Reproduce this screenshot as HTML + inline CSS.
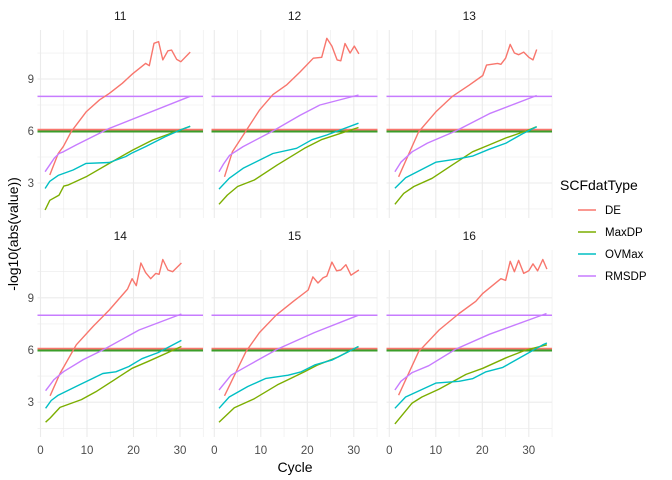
<!DOCTYPE html>
<html><head><meta charset="utf-8"><style>
html,body{margin:0;padding:0;background:#fff;}
svg{display:block;font-family:"Liberation Sans",sans-serif;}
</style></head><body>
<svg id="s" width="672" height="480" xmlns="http://www.w3.org/2000/svg"></svg>
<script>
const s=document.getElementById('s');
let h='';
const cols=[{l:37.5,r:203,x0:40.5},{l:211.5,r:377.5,x0:214.3},{l:386.5,r:552,x0:389.3}];
const rows=[{t:30,b:218,y6:131,k:17.33},{t:250,b:437,y6:350,k:17.4}];
const kx=4.65;
const C={DE:'#F8766D',MaxDP:'#7CAE00',OVMax:'#00BFC4',RMSDP:'#C77CFF'};
const D={
11:{DE:[[2,3.46],[3.8,4.7],[4.9,5.1],[6.6,5.96],[9.8,7.1],[12.7,7.8],[14.8,8.17],[17.6,8.75],[19.8,9.3],[22.6,9.9],[23.4,9.77],[24.4,11.06],[25.4,11.16],[26.3,10.1],[27.4,10.63],[28.2,10.67],[29.3,10.13],[30.2,10.0],[32.2,10.55]],
RMSDP:[[1,3.65],[2,4.05],[3,4.45],[4,4.7],[4.9,4.8],[7.7,5.2],[14.8,6.15],[32.2,8.0]],
OVMax:[[1,2.68],[2,3.1],[3.8,3.44],[7,3.75],[9.8,4.13],[14.8,4.18],[18.3,4.52],[19.8,4.75],[22.6,5.1],[26.8,5.67],[30,6.05],[32.2,6.27]],
MaxDP:[[1,1.44],[2,2.0],[4,2.3],[5,2.82],[5.9,2.88],[9.8,3.36],[14.8,4.13],[19.8,4.9],[24.1,5.48],[32.2,6.27]]},
12:{DE:[[2.2,3.36],[3.9,4.8],[6.8,6.0],[9.7,7.2],[12.6,8.1],[15.5,8.65],[18.4,9.4],[21.3,10.2],[23.1,10.25],[24.2,11.35],[25.3,10.9],[26.4,10.1],[27.2,10.05],[28.1,11.05],[29.2,10.5],[30.1,10.9],[31.1,10.45]],
RMSDP:[[1,3.65],[2,4.1],[3.3,4.6],[6.2,5.1],[12.6,6.0],[18.4,6.9],[22.7,7.5],[31,8.08]],
OVMax:[[1,2.65],[3.2,3.27],[6.2,3.85],[12.6,4.7],[17.7,5.0],[21,5.5],[24.2,5.77],[31,6.45]],
MaxDP:[[1,1.77],[2.8,2.3],[5,2.8],[8.6,3.17],[13.6,4.05],[19.4,5.0],[23,5.5],[31,6.2]]},
13:{DE:[[2,3.36],[6.3,5.95],[10,7.1],[13.6,8.0],[17.2,8.65],[20.1,9.2],[20.9,9.8],[23.3,9.9],[24,9.85],[25,10.2],[26,11.0],[26.9,10.5],[27.8,10.4],[28.9,10.55],[30,10.25],[30.9,10.1],[31.7,10.7]],
RMSDP:[[1.2,3.65],[2.5,4.2],[4.9,4.8],[8.2,5.3],[14.3,6.0],[21.5,7.0],[31.7,8.05]],
OVMax:[[1.2,2.7],[3.5,3.3],[10,4.2],[15,4.4],[17.9,4.55],[21.5,4.95],[25.1,5.3],[28.7,5.85],[31.7,6.25]],
MaxDP:[[1.2,1.77],[3.1,2.4],[5.3,2.8],[9.2,3.27],[13.6,4.05],[17.9,4.8],[21.5,5.2],[25.1,5.6],[29.4,6.0],[31.7,6.25]]},
14:{DE:[[2.06,3.37],[4.2,4.65],[7.7,6.3],[11.3,7.35],[14.8,8.3],[18.7,9.5],[19.7,10.1],[20.6,9.7],[21.6,11.0],[22.6,10.45],[23.7,10.1],[24.8,10.4],[25.5,10.35],[26.3,11.2],[27.4,10.6],[28.4,10.5],[30.3,11.0]],
RMSDP:[[1.1,3.66],[2.9,4.3],[4.9,4.75],[9.2,5.45],[13.4,6.0],[21.2,7.15],[30.3,8.07]],
OVMax:[[1.1,2.65],[2.3,3.1],[3.8,3.4],[8.4,4.0],[13.4,4.65],[16.2,4.75],[19,5.05],[21.8,5.5],[25.3,5.85],[30.3,6.55]],
MaxDP:[[1.1,1.85],[2.1,2.1],[4.2,2.7],[8.8,3.15],[11.9,3.6],[15.4,4.2],[19.7,4.95],[23.2,5.35],[30.3,6.2]]},
15:{DE:[[2.2,3.37],[6.8,5.9],[9.7,7.0],[13.3,8.0],[17,8.8],[20.2,9.45],[21.2,10.2],[22.3,9.85],[23.4,10.15],[24.2,10.25],[25.3,11.05],[26.3,10.55],[27.2,10.6],[28.3,10.9],[29.4,10.3],[31.1,10.6]],
RMSDP:[[1,3.7],[3.6,4.55],[7.2,5.1],[13.6,6.05],[21.5,7.0],[31,8.0]],
OVMax:[[1,2.65],[3.2,3.3],[7.2,3.9],[11.1,4.37],[15.9,4.55],[18.7,4.75],[21.7,5.15],[25.3,5.42],[31,6.2]],
MaxDP:[[1,1.85],[2,2.1],[4.3,2.68],[8.6,3.2],[13.6,4.0],[19.4,4.75],[22.3,5.15],[26.6,5.6],[31,6.2]]},
16:{DE:[[2,3.4],[6.3,5.9],[10.7,7.15],[15,8.1],[18.6,8.8],[20.1,9.25],[24,10.1],[25,10.0],[26,11.1],[26.9,10.5],[27.8,11.15],[28.9,10.4],[30,10.55],[30.9,10.95],[31.9,10.55],[33,11.2],[33.9,10.65]],
RMSDP:[[1.2,3.7],[2.5,4.2],[4.9,4.7],[8.5,5.1],[14.3,6.05],[21.5,6.9],[33.8,8.1]],
OVMax:[[1.2,2.65],[3.5,3.3],[10,4.1],[15,4.2],[17.9,4.35],[20.8,4.75],[24.4,5.0],[28.7,5.65],[33,6.3],[33.9,6.4]],
MaxDP:[[1.2,1.75],[4.9,2.95],[7,3.3],[10.7,3.75],[16.5,4.6],[20.1,4.95],[25.1,5.55],[29.4,6.0],[33.9,6.3]]}
};
const ids=[11,12,13,14,15,16];
ids.forEach((id,i)=>{
 const c=cols[i%3], r=rows[Math.floor(i/3)];
 const X=v=>c.x0+v*kx, Y=v=>r.y6-(v-6)*r.k;
 // minor grid
 [1.5,4.5,7.5,10.5].forEach(v=>{const y=Y(v);if(y>r.t&&y<r.b)h+=`<line x1="${c.l}" x2="${c.r}" y1="${y}" y2="${y}" stroke="#ebebeb" stroke-width="0.6"/>`;});
 [5,15,25,35].forEach(v=>{const x=X(v);if(x<=c.r+1)h+=`<line x1="${x}" x2="${x}" y1="${r.t}" y2="${r.b}" stroke="#ebebeb" stroke-width="0.6"/>`;});
 [3,6,9].forEach(v=>{const y=Y(v);h+=`<line x1="${c.l}" x2="${c.r}" y1="${y}" y2="${y}" stroke="#ebebeb" stroke-width="1.1"/>`;});
 [0,10,20,30].forEach(v=>{const x=X(v);h+=`<line x1="${x}" x2="${x}" y1="${r.t}" y2="${r.b}" stroke="#ebebeb" stroke-width="1.1"/>`;});
 // hlines
 h+=`<line x1="${c.l}" x2="${c.r}" y1="${Y(8)}" y2="${Y(8)}" stroke="${C.RMSDP}" stroke-width="1.5"/>`;
 h+=`<line x1="${c.l}" x2="${c.r}" y1="${Y(6.07)}" y2="${Y(6.07)}" stroke="${C.DE}" stroke-width="2"/>`;
 h+=`<line x1="${c.l}" x2="${c.r}" y1="${Y(5.97)}" y2="${Y(5.97)}" stroke="#3a9e2a" stroke-width="2"/>`;
 ['DE','MaxDP','OVMax','RMSDP'].forEach(k=>{
  h+=`<polyline fill="none" stroke="${C[k]}" stroke-width="1.4" stroke-linejoin="round" points="${D[id][k].map(p=>X(p[0]).toFixed(1)+','+Y(p[1]).toFixed(1)).join(' ')}"/>`;
 });
 h+=`<text x="${(c.l+c.r)/2}" y="${r.t-10}" font-size="12" fill="#1a1a1a" text-anchor="middle">${id}</text>`;
 if(i%3==0)[3,6,9].forEach(v=>{h+=`<text x="34" y="${Y(v)+4}" font-size="11.5" fill="#4d4d4d" text-anchor="end">${v}</text>`;});
 if(i>=3)[0,10,20,30].forEach(v=>{h+=`<text x="${X(v)}" y="454" font-size="11.5" fill="#4d4d4d" text-anchor="middle">${v}</text>`;});
});
h+=`<text x="295" y="472" font-size="14" fill="#000" text-anchor="middle">Cycle</text>`;
h+=`<text transform="translate(18,234) rotate(-90)" font-size="14" fill="#000" text-anchor="middle">-log10(abs(value))</text>`;
h+=`<text x="560" y="190" font-size="14" fill="#000">SCFdatType</text>`;
[['DE',210],['MaxDP',232],['OVMax',254],['RMSDP',276]].forEach(([k,y])=>{
 h+=`<line x1="578" x2="596" y1="${y}" y2="${y}" stroke="${C[k]}" stroke-width="1.4"/>`;
 h+=`<text x="605" y="${y+4}" font-size="11.5" fill="#000">${k}</text>`;
});
s.innerHTML=h;
</script>
</body></html>
